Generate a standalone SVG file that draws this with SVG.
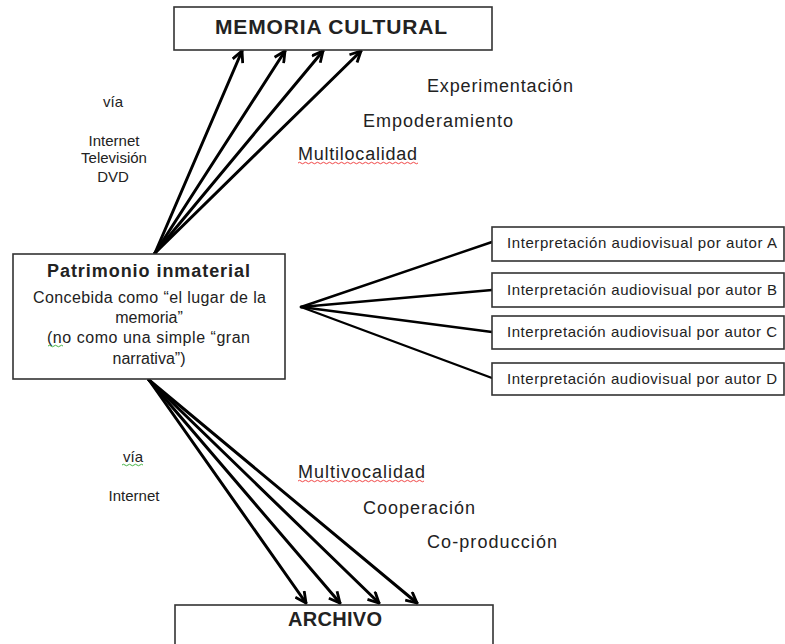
<svg xmlns="http://www.w3.org/2000/svg" width="785" height="644" viewBox="0 0 785 644">
<style>
  .box{fill:#fff;stroke:#333;stroke-width:1.6}
  .t{font-family:"Liberation Sans",Arial,sans-serif;fill:#222}
  .b{font-weight:bold}
  .c{stroke:#000;stroke-width:3;fill:none;stroke-linecap:round}
  .f{stroke:#000;stroke-width:2.4;fill:none;stroke-linecap:round}
  .sq{fill:none;stroke-width:0.9}
</style>
<defs>
  <marker id="ah" viewBox="0 0 12 12" markerWidth="13" markerHeight="13" refX="11" refY="6" orient="auto" markerUnits="userSpaceOnUse">
    <path d="M1,1 L11,6 L1,11" fill="none" stroke="#000" stroke-width="2.6" stroke-linejoin="miter"/>
  </marker>
</defs>
<rect width="785" height="644" fill="#fff"/>

<g id="connectors">
  <line class="c" x1="155" y1="253" x2="242" y2="51" marker-end="url(#ah)"/>
  <line class="c" x1="155" y1="253" x2="285" y2="51" marker-end="url(#ah)"/>
  <line class="c" x1="155" y1="253" x2="323" y2="51" marker-end="url(#ah)"/>
  <line class="c" x1="155" y1="253" x2="361" y2="51" marker-end="url(#ah)"/>
  <line class="c" x1="149" y1="380" x2="306" y2="603" marker-end="url(#ah)"/>
  <line class="c" x1="149" y1="380" x2="340" y2="603" marker-end="url(#ah)"/>
  <line class="c" x1="149" y1="380" x2="379" y2="603" marker-end="url(#ah)"/>
  <line class="c" x1="149" y1="380" x2="417" y2="603" marker-end="url(#ah)"/>
  <line class="f" x1="301" y1="307" x2="492" y2="242"/>
  <line class="f" x1="301" y1="307" x2="492" y2="290"/>
  <line class="f" x1="301" y1="307" x2="492" y2="332"/>
  <line class="f" x1="301" y1="307" x2="492" y2="378"/>
</g>

<g id="memoria">
  <rect class="box" x="174" y="7" width="318" height="43"/>
  <text class="t b" x="215" y="34" font-size="21" textLength="232" lengthAdjust="spacing">MEMORIA CULTURAL</text>
</g>

<g id="patrimonio">
  <rect class="box" x="13" y="254" width="272" height="125"/>
  <text class="t b" x="47" y="277" font-size="18" textLength="203" lengthAdjust="spacing">Patrimonio inmaterial</text>
  <text class="t" x="33" y="303" font-size="16" textLength="233" lengthAdjust="spacing">Concebida como “el lugar de la</text>
  <text class="t" x="149" y="323" font-size="16" text-anchor="middle">memoria”</text>
  <text class="t" x="47" y="343" font-size="16" textLength="203" lengthAdjust="spacing">(no como una simple “gran</text>
  <text class="t" x="149" y="364" font-size="16" text-anchor="middle">narrativa”)</text>
  <path class="sq" stroke="#3a3" d="M48,346 q1.5,-1.5 3,0 t3,0 t3,0 t3,0 t3,0"/>
</g>

<g id="autorA">
  <rect class="box" x="492" y="227" width="292" height="34"/>
  <text class="t" x="507" y="248" font-size="15" textLength="270" lengthAdjust="spacing">Interpretación audiovisual por autor A</text>
</g>
<g id="autorB">
  <rect class="box" x="492" y="273" width="292" height="34"/>
  <text class="t" x="507" y="295" font-size="15" textLength="270" lengthAdjust="spacing">Interpretación audiovisual por autor B</text>
</g>
<g id="autorC">
  <rect class="box" x="492" y="316" width="292" height="33"/>
  <text class="t" x="507" y="337" font-size="15" textLength="270" lengthAdjust="spacing">Interpretación audiovisual por autor C</text>
</g>
<g id="autorD">
  <rect class="box" x="492" y="363" width="292" height="32"/>
  <text class="t" x="507" y="384" font-size="15" textLength="270" lengthAdjust="spacing">Interpretación audiovisual por autor D</text>
</g>

<g id="archivo">
  <rect class="box" x="175" y="605" width="318" height="60"/>
  <text class="t b" x="288" y="626" font-size="20" textLength="94" lengthAdjust="spacing">ARCHIVO</text>
</g>

<g id="labels-top">
  <text class="t" x="113" y="107" font-size="15" text-anchor="middle">vía</text>
  <text class="t" x="114" y="146" font-size="15" text-anchor="middle">Internet</text>
  <text class="t" x="114" y="163" font-size="15" text-anchor="middle">Televisión</text>
  <text class="t" x="113" y="182" font-size="15" text-anchor="middle">DVD</text>
  <text class="t" x="427" y="92" font-size="18" textLength="146" lengthAdjust="spacing">Experimentación</text>
  <text class="t" x="363" y="127" font-size="18" textLength="150" lengthAdjust="spacing">Empoderamiento</text>
  <text class="t" x="298" y="160" font-size="18" textLength="119" lengthAdjust="spacing">Multilocalidad</text>
  <path class="sq" stroke="#e33" d="M298,163 q1.5,-1.5 3,0 t3,0 t3,0 t3,0 t3,0 t3,0 t3,0 t3,0 t3,0 t3,0 t3,0 t3,0 t3,0 t3,0 t3,0 t3,0 t3,0 t3,0 t3,0 t3,0 t3,0 t3,0 t3,0 t3,0 t3,0 t3,0 t3,0 t3,0 t3,0 t3,0 t3,0 t3,0 t3,0 t3,0 t3,0 t3,0 t3,0 t3,0 t3,0 t3,0"/>
</g>

<g id="labels-bottom">
  <text class="t" x="133" y="462" font-size="15" text-anchor="middle">vía</text>
  <path class="sq" stroke="#3a3" d="M122,465 q1.5,-1.5 3,0 t3,0 t3,0 t3,0 t3,0 t3,0 t3,0"/>
  <text class="t" x="134" y="501" font-size="15" text-anchor="middle">Internet</text>
  <text class="t" x="298" y="478" font-size="18" textLength="127" lengthAdjust="spacing">Multivocalidad</text>
  <path class="sq" stroke="#e33" d="M298,481 q1.5,-1.5 3,0 t3,0 t3,0 t3,0 t3,0 t3,0 t3,0 t3,0 t3,0 t3,0 t3,0 t3,0 t3,0 t3,0 t3,0 t3,0 t3,0 t3,0 t3,0 t3,0 t3,0 t3,0 t3,0 t3,0 t3,0 t3,0 t3,0 t3,0 t3,0 t3,0 t3,0 t3,0 t3,0 t3,0 t3,0 t3,0 t3,0 t3,0 t3,0 t3,0 t3,0 t3,0"/>
  <text class="t" x="363" y="514" font-size="18" textLength="112" lengthAdjust="spacing">Cooperación</text>
  <text class="t" x="427" y="548" font-size="18" textLength="130" lengthAdjust="spacing">Co-producción</text>
</g>
</svg>
